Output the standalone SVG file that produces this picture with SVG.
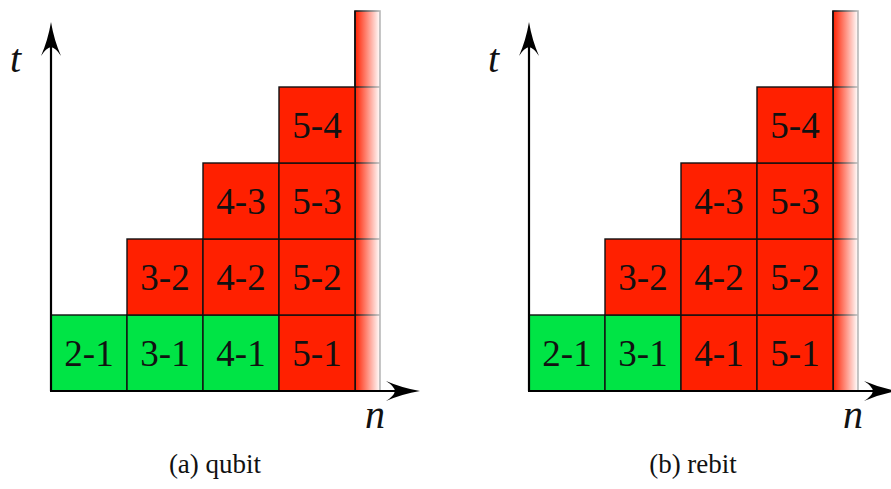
<svg xmlns="http://www.w3.org/2000/svg" width="891" height="489" viewBox="0 0 891 489" font-family="'Liberation Serif', serif">
<style>
.red{fill:#ff2000;stroke:#111;stroke-width:1.4}
.green{fill:#00e445;stroke:#111;stroke-width:1.4}
.lbl{font-size:37px;text-anchor:middle;fill:#111}
.ax{font-size:40px;font-style:italic;fill:#111}
.cap{font-size:27px;text-anchor:middle;fill:#111}
.axis{stroke:#000;stroke-width:2.2;fill:none}
.head{fill:#000;stroke:none}
.sline{stroke:url(#fadeS);stroke-width:1.4}
</style>
<defs>
<linearGradient id="fadeF" gradientUnits="userSpaceOnUse" x1="355" y1="0" x2="380" y2="0">
<stop offset="0" stop-color="#ff2000"/>
<stop offset="1" stop-color="#ffffff"/>
</linearGradient>
<linearGradient id="fadeS" gradientUnits="userSpaceOnUse" x1="355" y1="0" x2="380" y2="0">
<stop offset="0" stop-color="#111"/>
<stop offset="1" stop-color="#b8b8b8"/>
</linearGradient>
<path id="headUp" d="M0,0 Q3,18 10,34 Q5,26 0,25 Q-5,26 -10,34 Q-3,18 0,0 Z"/>
<path id="headRight" d="M0,0 Q-18,3 -34,10 Q-26,5 -25,0 Q-26,-5 -34,-10 Q-18,-3 0,0 Z"/>
</defs>

<g id="panel-a">
  <g id="a-strip">
    <rect x="355" y="11" width="25" height="380" fill="url(#fadeF)" stroke="url(#fadeS)" stroke-width="1.6"/>
    <line class="sline" x1="355" y1="87" x2="380" y2="87"/>
    <line class="sline" x1="355" y1="163" x2="380" y2="163"/>
    <line class="sline" x1="355" y1="239" x2="380" y2="239"/>
    <line class="sline" x1="355" y1="315" x2="380" y2="315"/>
    <line x1="355" y1="11" x2="355" y2="391" stroke="#111" stroke-width="1.4"/>
  </g>
  <g id="a-2-1"><rect class="green" x="51" y="315" width="76" height="76"/><text class="lbl" x="89" y="366">2-1</text></g>
  <g id="a-3-1"><rect class="green" x="127" y="315" width="76" height="76"/><text class="lbl" x="165" y="366">3-1</text></g>
  <g id="a-4-1"><rect class="green" x="203" y="315" width="76" height="76"/><text class="lbl" x="241" y="366">4-1</text></g>
  <g id="a-5-1"><rect class="red" x="279" y="315" width="76" height="76"/><text class="lbl" x="317" y="366">5-1</text></g>
  <g id="a-3-2"><rect class="red" x="127" y="239" width="76" height="76"/><text class="lbl" x="165" y="290">3-2</text></g>
  <g id="a-4-2"><rect class="red" x="203" y="239" width="76" height="76"/><text class="lbl" x="241" y="290">4-2</text></g>
  <g id="a-5-2"><rect class="red" x="279" y="239" width="76" height="76"/><text class="lbl" x="317" y="290">5-2</text></g>
  <g id="a-4-3"><rect class="red" x="203" y="163" width="76" height="76"/><text class="lbl" x="241" y="214">4-3</text></g>
  <g id="a-5-3"><rect class="red" x="279" y="163" width="76" height="76"/><text class="lbl" x="317" y="214">5-3</text></g>
  <g id="a-5-4"><rect class="red" x="279" y="87" width="76" height="76"/><text class="lbl" x="317" y="138">5-4</text></g>
  <g id="a-axes">
    <line class="axis" x1="51" y1="391" x2="51" y2="45"/>
    <line class="axis" x1="50" y1="391" x2="398" y2="391"/>
    <use href="#headUp" class="head" x="51" y="22"/>
    <use href="#headRight" class="head" x="420" y="391"/>
    <text class="ax" x="10" y="72">t</text>
    <text class="ax" x="365" y="428">n</text>
  </g>
  <text class="cap" x="215" y="473">(a) qubit</text>
</g>

<g id="panel-b" transform="translate(478,0)">
  <g id="b-strip">
    <rect x="355" y="11" width="25" height="380" fill="url(#fadeF)" stroke="url(#fadeS)" stroke-width="1.6"/>
    <line class="sline" x1="355" y1="87" x2="380" y2="87"/>
    <line class="sline" x1="355" y1="163" x2="380" y2="163"/>
    <line class="sline" x1="355" y1="239" x2="380" y2="239"/>
    <line class="sline" x1="355" y1="315" x2="380" y2="315"/>
    <line x1="355" y1="11" x2="355" y2="391" stroke="#111" stroke-width="1.4"/>
  </g>
  <g id="b-2-1"><rect class="green" x="51" y="315" width="76" height="76"/><text class="lbl" x="89" y="366">2-1</text></g>
  <g id="b-3-1"><rect class="green" x="127" y="315" width="76" height="76"/><text class="lbl" x="165" y="366">3-1</text></g>
  <g id="b-4-1"><rect class="red" x="203" y="315" width="76" height="76"/><text class="lbl" x="241" y="366">4-1</text></g>
  <g id="b-5-1"><rect class="red" x="279" y="315" width="76" height="76"/><text class="lbl" x="317" y="366">5-1</text></g>
  <g id="b-3-2"><rect class="red" x="127" y="239" width="76" height="76"/><text class="lbl" x="165" y="290">3-2</text></g>
  <g id="b-4-2"><rect class="red" x="203" y="239" width="76" height="76"/><text class="lbl" x="241" y="290">4-2</text></g>
  <g id="b-5-2"><rect class="red" x="279" y="239" width="76" height="76"/><text class="lbl" x="317" y="290">5-2</text></g>
  <g id="b-4-3"><rect class="red" x="203" y="163" width="76" height="76"/><text class="lbl" x="241" y="214">4-3</text></g>
  <g id="b-5-3"><rect class="red" x="279" y="163" width="76" height="76"/><text class="lbl" x="317" y="214">5-3</text></g>
  <g id="b-5-4"><rect class="red" x="279" y="87" width="76" height="76"/><text class="lbl" x="317" y="138">5-4</text></g>
  <g id="b-axes">
    <line class="axis" x1="51" y1="391" x2="51" y2="45"/>
    <line class="axis" x1="50" y1="391" x2="398" y2="391"/>
    <use href="#headUp" class="head" x="51" y="22"/>
    <use href="#headRight" class="head" x="420" y="391"/>
    <text class="ax" x="10" y="72">t</text>
    <text class="ax" x="365" y="428">n</text>
  </g>
  <text class="cap" x="215" y="473">(b) rebit</text>
</g>
</svg>
